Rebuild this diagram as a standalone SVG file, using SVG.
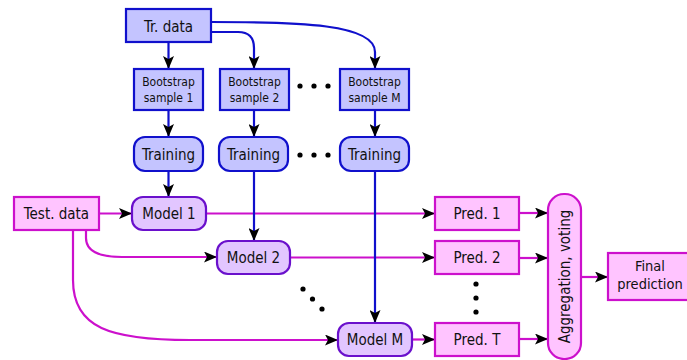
<svg xmlns="http://www.w3.org/2000/svg" width="687" height="360" viewBox="0 0 687 360">
<defs>
<marker id="ah" markerUnits="userSpaceOnUse" markerWidth="13" markerHeight="11" refX="13" refY="5.5" orient="auto">
<path d="M0,0 L13,5.5 L0,11 L3,5.5 z" fill="#000"/>
</marker>
<style>
text{font-family:"DejaVu Sans Condensed","DejaVu Sans","Liberation Sans",sans-serif;fill:#111;text-anchor:middle}
.t14{font-size:15px}
.t11{font-size:12px}
.fin{font-size:14.5px}
.blue{fill:#c4c4ff;stroke:#1010cc;stroke-width:2.2}
.model{fill:#e2c6ff;stroke:#6a10cc;stroke-width:2.2}
.pink{fill:#ffc4ff;stroke:#cc10cc;stroke-width:2.2}
.cb{fill:none;stroke:#1010cc;stroke-width:2.2}
.cp{fill:none;stroke:#cc10cc;stroke-width:2.2}
.dot{fill:#000}
</style>
</defs>
<g id="connectors">
<path class="cb" d="M168.5,42 V69" marker-end="url(#ah)"/>
<path class="cb" d="M211,32 H238 Q254,32 254,48 V69" marker-end="url(#ah)"/>
<path class="cb" d="M211,22 C300,22 375,24 375,52 V69" marker-end="url(#ah)"/>
<path class="cb" d="M168.5,110 V137" marker-end="url(#ah)"/>
<path class="cb" d="M254,110 V137" marker-end="url(#ah)"/>
<path class="cb" d="M375,110 V137" marker-end="url(#ah)"/>
<path class="cb" d="M168.5,171 V197" marker-end="url(#ah)"/>
<path class="cp" d="M99,213.5 H132" marker-end="url(#ah)"/>
<path class="cp" d="M86,230 V238 Q86,257 122,257 H217" marker-end="url(#ah)"/>
<path class="cp" d="M73,230 V280 C73,328 110,340 190,340 H338" marker-end="url(#ah)"/>
<path class="cp" d="M206,213.5 H435" marker-end="url(#ah)"/>
<path class="cp" d="M290,257.5 H435" marker-end="url(#ah)"/>
<path class="cp" d="M412,339.5 H435" marker-end="url(#ah)"/>
<path class="cp" d="M519,213 H548" marker-end="url(#ah)"/>
<path class="cp" d="M519,258 H548" marker-end="url(#ah)"/>
<path class="cp" d="M519,339 H548" marker-end="url(#ah)"/>
<path class="cp" d="M581,277 H608" marker-end="url(#ah)"/>
<path class="cb" d="M254,171 V241" marker-end="url(#ah)"/>
<path class="cb" d="M375,171 V323" marker-end="url(#ah)"/>
</g>
<g id="tr-data"><rect class="blue" x="126" y="9" width="85" height="33"/><text class="t14" x="168.5" y="32">Tr. data</text></g>
<g id="bootstrap-1"><rect class="blue" x="134" y="69" width="69" height="41"/><text class="t11" x="168.5" y="86">Bootstrap</text><text class="t11" x="168.5" y="102">sample 1</text></g>
<g id="bootstrap-2"><rect class="blue" x="220" y="69" width="69" height="41"/><text class="t11" x="254.5" y="86">Bootstrap</text><text class="t11" x="254.5" y="102">sample 2</text></g>
<g id="bootstrap-m"><rect class="blue" x="340" y="69" width="69" height="41"/><text class="t11" x="374.5" y="86">Bootstrap</text><text class="t11" x="374.5" y="102">sample M</text></g>
<g id="training-1"><rect class="blue" x="134" y="137" width="69" height="34" rx="11"/><text class="t14" x="168.5" y="159.5">Training</text></g>
<g id="training-2"><rect class="blue" x="219" y="137" width="69" height="34" rx="11"/><text class="t14" x="253.5" y="159.5">Training</text></g>
<g id="training-m"><rect class="blue" x="340" y="137" width="69" height="34" rx="11"/><text class="t14" x="374.5" y="159.5">Training</text></g>
<g id="dots-top"><circle class="dot" cx="300" cy="86" r="2.6"/><circle class="dot" cx="314" cy="86" r="2.6"/><circle class="dot" cx="328" cy="86" r="2.6"/></g>
<g id="dots-training"><circle class="dot" cx="300" cy="155" r="2.6"/><circle class="dot" cx="314" cy="155" r="2.6"/><circle class="dot" cx="328" cy="155" r="2.6"/></g>
<g id="test-data"><rect class="pink" x="14" y="197" width="85" height="33"/><text class="t14" x="56.5" y="219">Test. data</text></g>
<g id="model-1"><rect class="model" x="132" y="197" width="74" height="33" rx="11"/><text class="t14" x="169" y="219">Model 1</text></g>
<g id="model-2"><rect class="model" x="217" y="241" width="73" height="33" rx="11"/><text class="t14" x="253.5" y="263">Model 2</text></g>
<g id="model-m"><rect class="model" x="338" y="323" width="74" height="33" rx="11"/><text class="t14" x="375" y="345">Model M</text></g>
<g id="dots-models"><circle class="dot" cx="303" cy="289" r="2.6"/><circle class="dot" cx="312.5" cy="299" r="2.6"/><circle class="dot" cx="322" cy="309" r="2.6"/></g>
<g id="pred-1"><rect class="pink" x="435" y="197" width="84" height="33"/><text class="t14" x="477" y="219">Pred. 1</text></g>
<g id="pred-2"><rect class="pink" x="435" y="241" width="84" height="33"/><text class="t14" x="477" y="263">Pred. 2</text></g>
<g id="pred-t"><rect class="pink" x="435" y="323" width="84" height="33"/><text class="t14" x="477" y="345">Pred. T</text></g>
<g id="dots-preds"><circle class="dot" cx="476" cy="284" r="2.6"/><circle class="dot" cx="476" cy="298" r="2.6"/><circle class="dot" cx="476" cy="312" r="2.6"/></g>
<g id="aggregation"><rect class="pink" x="548" y="194" width="33" height="165" rx="16"/><text class="t14" transform="translate(570,276.5) rotate(-90)">Aggregation, voting</text></g>
<g id="final"><rect class="pink" x="608" y="253" width="84" height="47"/><text class="fin" x="650" y="271">Final</text><text class="fin" x="650" y="289">prediction</text></g>
</svg>
